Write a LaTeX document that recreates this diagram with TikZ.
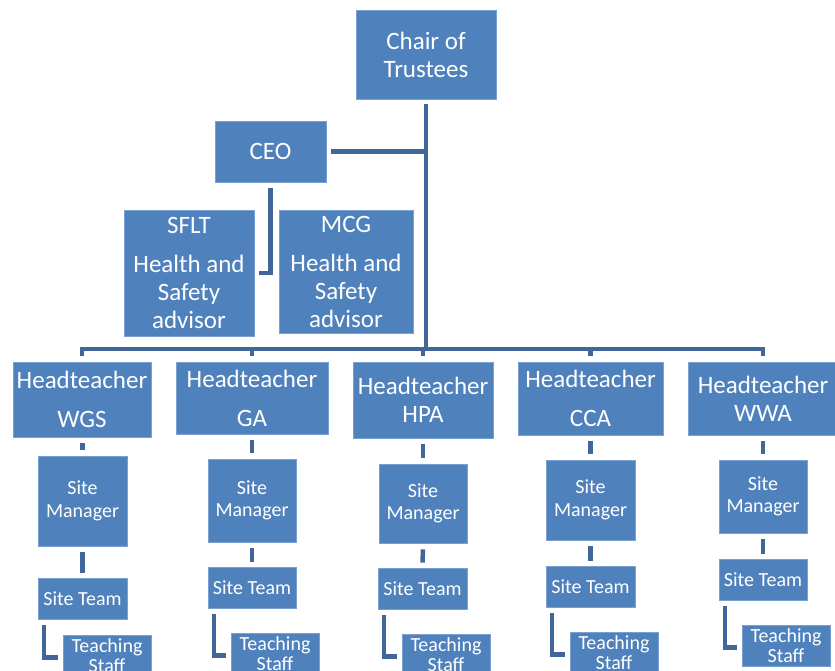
\documentclass[tikz,border=0pt]{standalone}
\usepackage{fontspec}
\setmainfont{Carlito}
\usetikzlibrary{calc}
\definecolor{boxfill}{HTML}{4F81BD}
\definecolor{boxline}{HTML}{7A9FD1}
\definecolor{conncol}{HTML}{41679A}
\begin{document}
\begin{tikzpicture}[x=1pt,y=-1pt,
  box/.style={fill=boxfill, draw=boxline, line width=0.7pt, text=white, align=center, inner sep=0pt},
  big/.style={box, font=\fontsize{25}{28}\selectfont},
  small/.style={box, font=\fontsize{20}{22.5}\selectfont},
  dims/.style 2 args={minimum width=#1pt, minimum height=#2pt},
  conn/.style={draw=conncol, line width=4.5pt}]
\useasboundingbox (0,0) rectangle (835,671);

% top
\node[big, dims={140}{89}] (chair) at (426,54.5) {Chair of\\Trustees};
\node[big, dims={111}{61}] (ceo) at (270.5,151.5) {CEO};
\node[big, dims={130}{126}] (sflt) at (189,273) {SFLT\\[11pt]Health and\\Safety\\advisor};
\node[big, dims={134}{123}] (mcg) at (346,271.5) {MCG\\[11pt]Health and\\Safety\\advisor};

% headteachers
\node[big, dims={138}{75}] (hWGS) at (82,399.5) {Headteacher\\[11pt]WGS};
\node[big, dims={152}{72}] (hGA) at (252,398) {Headteacher\\[11pt]GA};
\node[big, dims={140}{76}] (hHPA) at (423,400) {Headteacher\\HPA};
\node[big, dims={145}{73}] (hCCA) at (590.5,398.5) {Headteacher\\[11pt]CCA};
\node[big, dims={150}{73}] (hWWA) at (763,398.5) {Headteacher\\WWA};

% site managers
\node[small, dims={89}{90}] (smWGS) at (82.5,501) {Site\\Manager};
\node[small, dims={88}{83}] (smGA) at (252,500.5) {Site\\Manager};
\node[small, dims={88}{79}] (smHPA) at (423,503.5) {Site\\Manager};
\node[small, dims={89}{80}] (smCCA) at (590.5,500) {Site\\Manager};
\node[small, dims={88}{73}] (smWWA) at (763,496.5) {Site\\Manager};

% site teams
\node[small, dims={89}{41}] (stWGS) at (82.5,598.5) {Site Team};
\node[small, dims={88}{41}] (stGA) at (252,587.5) {Site Team};
\node[small, dims={89}{41}] (stHPA) at (422.5,588.5) {Site Team};
\node[small, dims={89}{41}] (stCCA) at (590.5,586.5) {Site Team};
\node[small, dims={88}{41}] (stWWA) at (763,579.5) {Site Team};

% teaching staff
\node[small, dims={88}{41}] (tsWGS) at (107,655.5) {Teaching\\[-2pt]Staff};
\node[small, dims={88}{41}] (tsGA) at (275,653.5) {Teaching\\[-2pt]Staff};
\node[small, dims={88}{41}] (tsHPA) at (446,654.5) {Teaching\\[-2pt]Staff};
\node[small, dims={88}{41}] (tsCCA) at (614,652.5) {Teaching\\[-2pt]Staff};
\node[small, dims={88}{41}] (tsWWA) at (786,645.5) {Teaching\\[-2pt]Staff};

% connectors
\coordinate (bar) at (0,349);
\draw[conn] ([yshift=-5pt]chair.south) -- (chair.south |- bar);
\draw[conn] ([xshift=5pt]ceo.east) -- (ceo.east -| chair.south);
\draw[conn] ([yshift=-6pt]ceo.south) |- ([xshift=5pt]sflt.east |- 0,273);
\draw[conn] ([yshift=6pt]hWGS.north) |- (hWWA.north |- bar) -- ([yshift=6pt]hWWA.north);
\foreach \n in {hGA,hHPA,hCCA}
  \draw[conn] ([yshift=6pt]\n.north) -- (\n.north |- bar);

\foreach \c in {WGS,GA,HPA,CCA,WWA}{
  \draw[conn, shorten <=6pt, shorten >=6pt] (h\c.south -| sm\c.north) -- (sm\c.north);
  \draw[conn, shorten <=6pt, shorten >=5pt] (sm\c.south) -- (st\c.north);
  \draw[conn] ([xshift=6.5pt,yshift=-6pt]st\c.south west) |- ([xshift=-5pt,yshift=-2pt]ts\c.west);
}
\end{tikzpicture}
\end{document}
